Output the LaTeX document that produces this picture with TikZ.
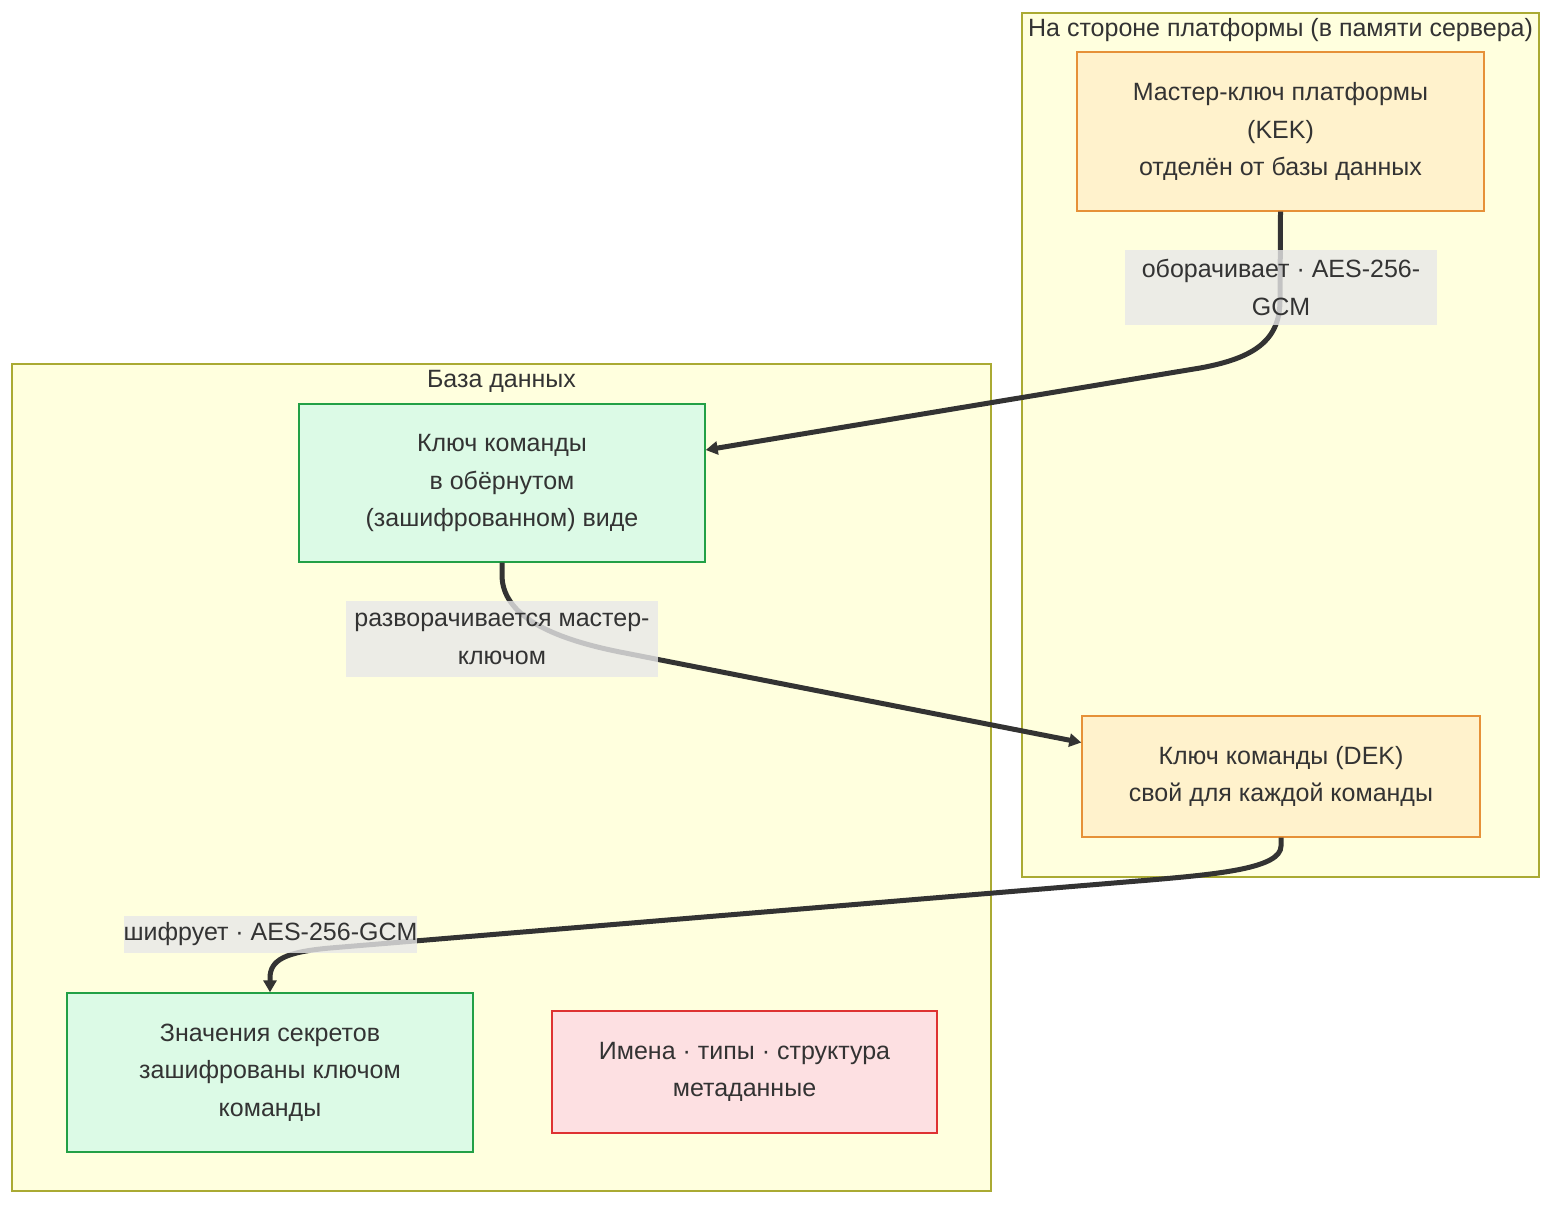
\documentclass[tikz,border=0pt]{standalone}
\usepackage{fontspec}
\setmainfont{Liberation Sans}
\usetikzlibrary{arrows.meta}

\definecolor{clusterfill}{RGB}{255,255,222}
\definecolor{clusterline}{RGB}{170,170,51}
\definecolor{keyfill}{RGB}{255,242,204}
\definecolor{keyline}{RGB}{230,145,56}
\definecolor{encfill}{RGB}{220,250,230}
\definecolor{encline}{RGB}{34,160,70}
\definecolor{metafill}{RGB}{253,224,226}
\definecolor{metaline}{RGB}{222,50,50}
\definecolor{labelbg}{RGB}{232,232,232}
\definecolor{txt}{RGB}{51,51,51}

\tikzset{
  every node/.style={font=\fontsize{12.5}{18.75}\selectfont, text=txt},
  cluster/.style={draw=clusterline, fill=clusterfill, line width=0.6pt, inner sep=0pt},
  title/.style={inner sep=0pt},
  keybox/.style={draw=keyline, fill=keyfill, line width=0.7pt, align=center, inner sep=0pt},
  encbox/.style={draw=encline, fill=encfill, line width=0.7pt, align=center, inner sep=0pt},
  metabox/.style={draw=metaline, fill=metafill, line width=0.7pt, align=center, inner sep=0pt},
  edgelabel/.style={fill=labelbg, fill opacity=0.8, text opacity=1, align=center, inner sep=0pt},
  edgeline/.style={draw=txt, line width=2.5pt, -{Triangle[length=6pt,width=6.5pt]}},
}

\begin{document}
\begin{tikzpicture}[x=0.5pt,y=-0.5pt]
\useasboundingbox (0,0) rectangle (1568,1216);

%Clusters
\node[cluster, minimum width=258.5pt, minimum height=432pt] (platform) at (1280.5,445) {};
\node[title] (platformtitle) at (1280.5,30) {На стороне платформы (в памяти сервера)};
\node[cluster, minimum width=489.5pt, minimum height=413.5pt] (database) at (501.5,777.5) {};
\node[title] (databasetitle) at (501.5,381) {База данных};

%Nodes
\node[keybox, minimum width=203.5pt, minimum height=79.5pt] (kek) at (1280.5,131.5)
  {Мастер-ключ платформы\\(KEK)\\отделён от базы данных};
\node[encbox, minimum width=203pt, minimum height=79pt] (wrapped) at (502,483)
  {Ключ команды\\в обёрнутом\\(зашифрованном) виде};
\node[keybox, minimum width=199pt, minimum height=60.5pt] (dek) at (1281,776.5)
  {Ключ команды (DEK)\\свой для каждой команды};
\node[encbox, minimum width=203pt, minimum height=79.5pt] (secrets) at (270,1072.5)
  {Значения секретов\\зашифрованы ключом\\команды};
\node[metabox, minimum width=192.5pt, minimum height=61pt] (meta) at (744.5,1072)
  {Имена · типы · структура\\метаданные};

%Edges
\draw[edgeline] (kek.south) -- (1280,300) .. controls (1280,340) and (1255,358) .. (1200,368)
  -- ([yshift=16.5pt]wrapped.east);
\draw[edgeline] (wrapped.south) -- (502,575) .. controls (502,615) and (550,638) .. (620,652)
  -- ([yshift=17pt]dek.west);
\draw[edgeline] (dek.south) -- (1281,846) .. controls (1281,868) and (1220,874) .. (1150,880)
  -- (330,948) .. controls (285,952) and (270,960) .. (270,978) -- (secrets.north);

%Edge labels
\node[edgelabel, minimum width=156pt, minimum height=37.5pt] (wraps) at (1281,287.5)
  {оборачивает · AES-256-\\GCM};
\node[edgelabel, minimum width=156pt, minimum height=38pt] (unwraps) at (502,639)
  {разворачивается мастер-\\ключом};
\node[edgelabel, minimum width=146.5pt, minimum height=18.5pt] (encrypts) at (270.5,934.5)
  {шифрует · AES-256-GCM};

\end{tikzpicture}
\end{document}
